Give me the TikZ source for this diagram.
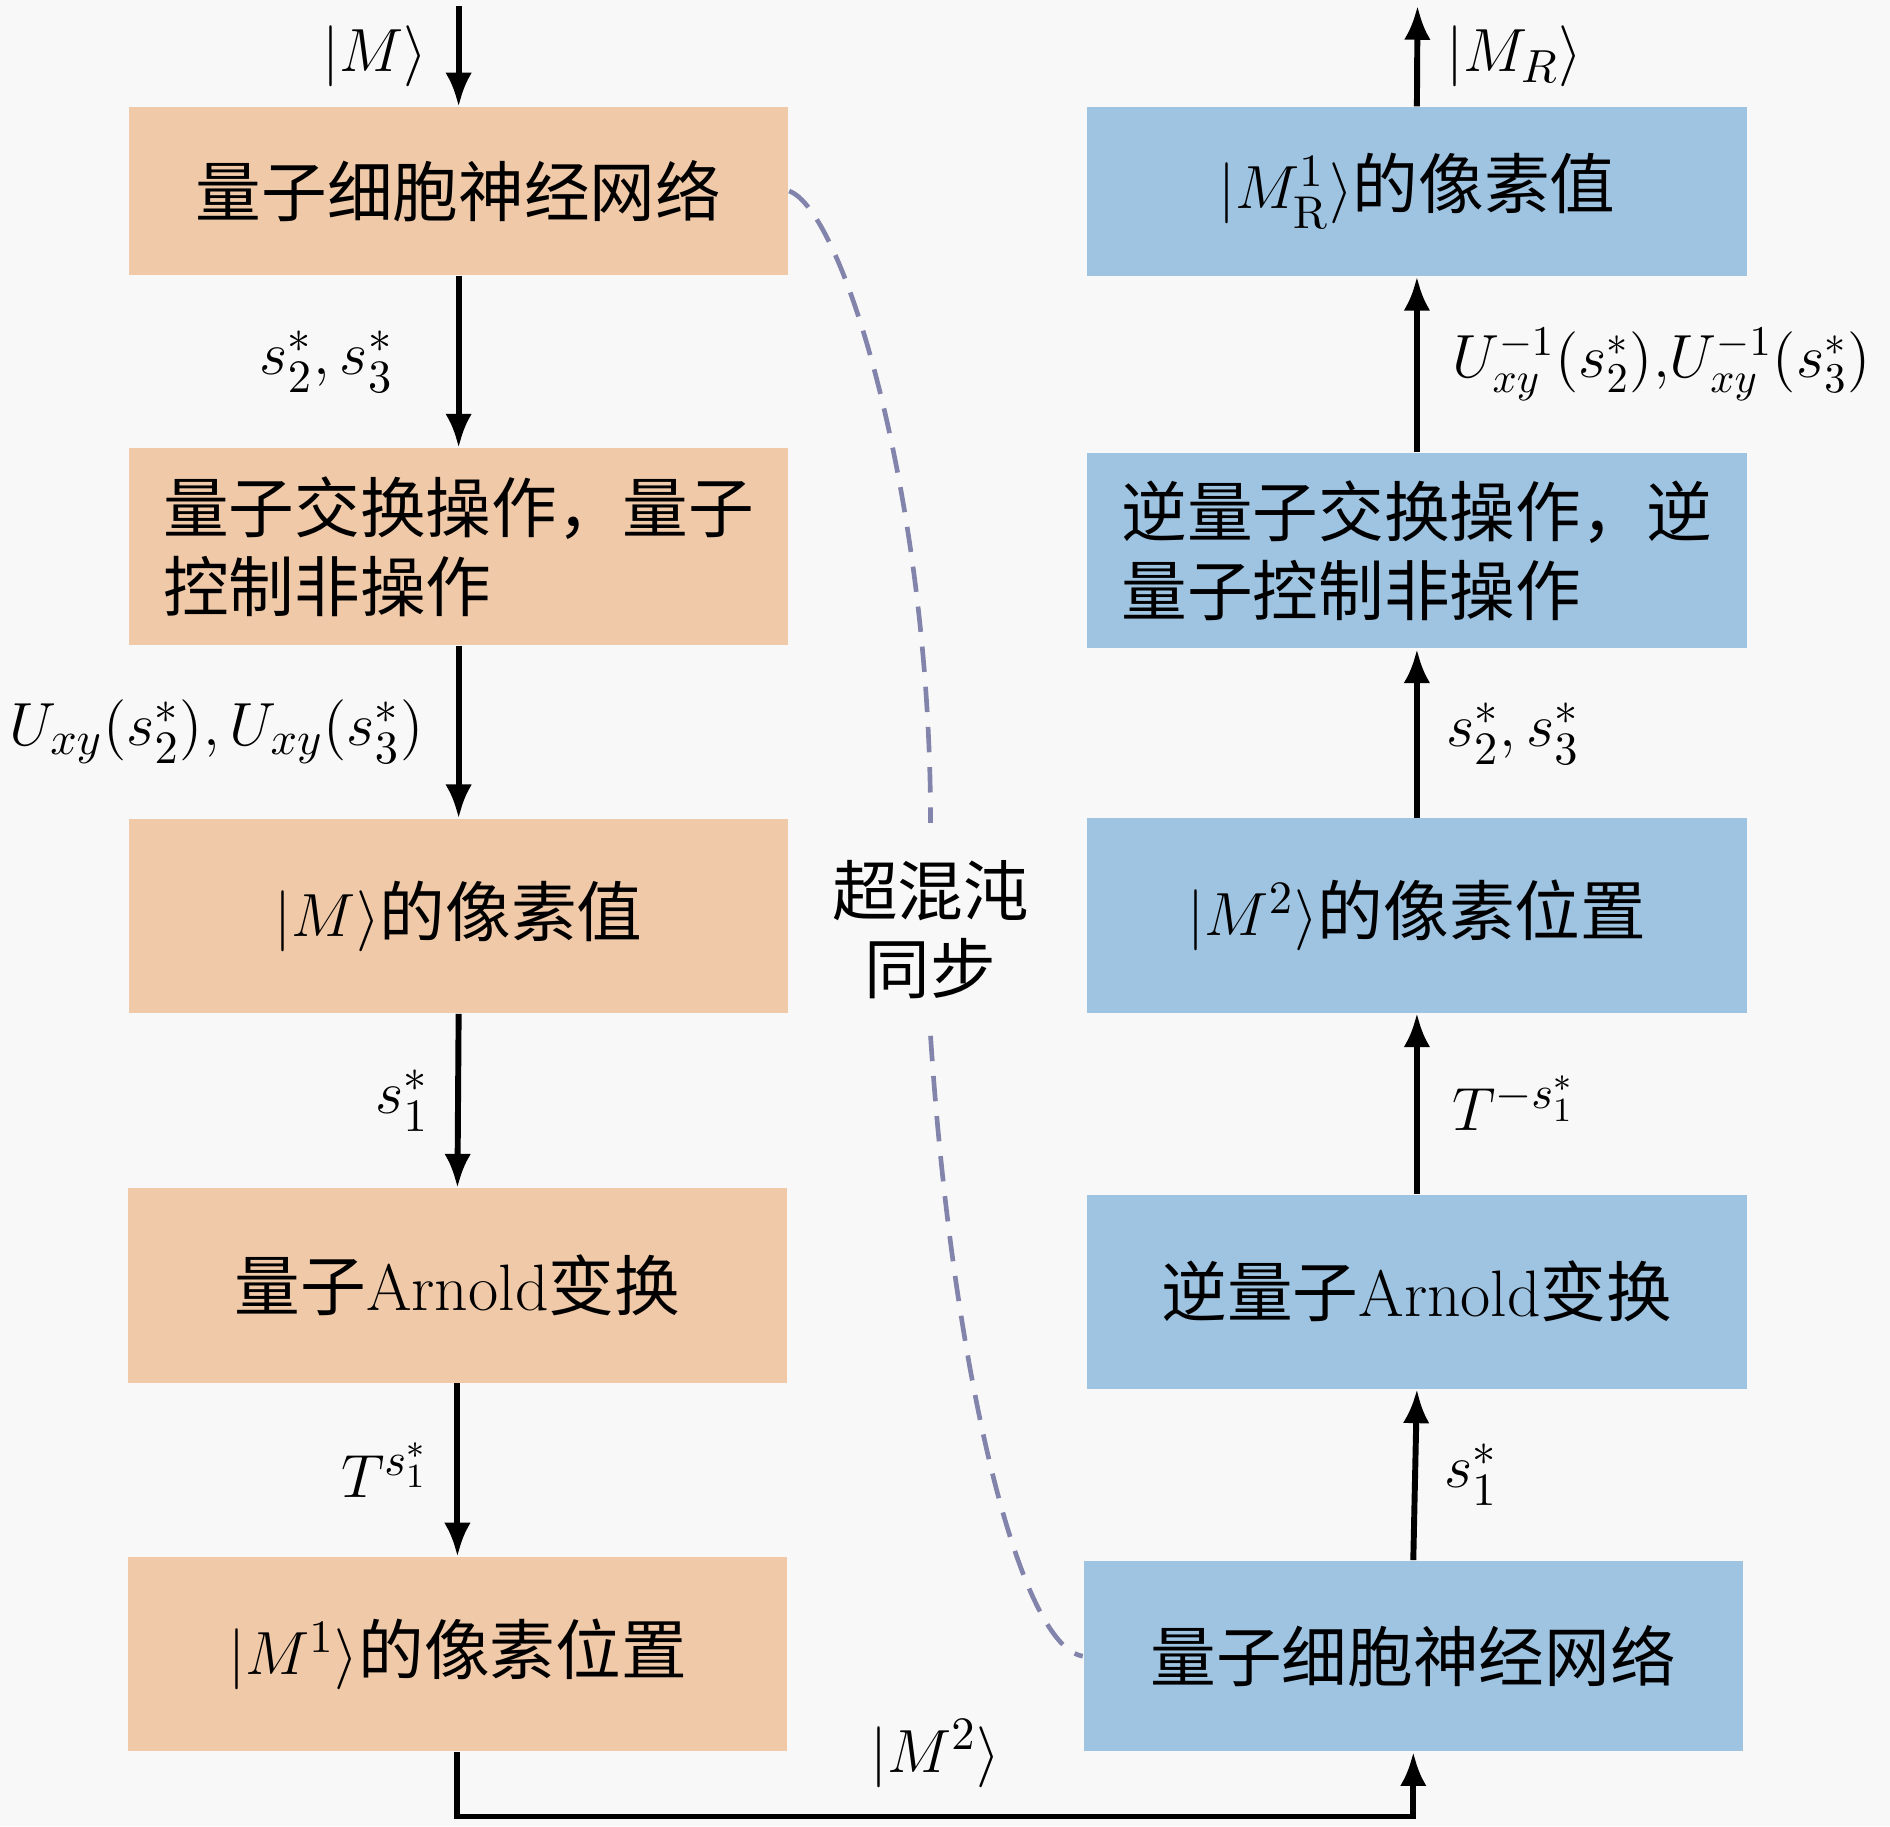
\documentclass[tikz,border=0pt]{standalone}
\usepackage{amsmath,amssymb}
\usepackage{fontspec}
\usepackage{xcolor}
\newfontfamily\cjk{Noto Sans CJK SC}
\usetikzlibrary{shapes,arrows.meta,positioning}

\definecolor{encfill}{RGB}{240,201,168}
\definecolor{decfill}{RGB}{158,196,226}
\definecolor{syncline}{RGB}{130,132,172}
\definecolor{bggray}{RGB}{248,248,248}

\begin{document}
\begin{tikzpicture}[
  font=\cjk\fontsize{15.5}{18.5}\selectfont,
  encbox/.style={rectangle, fill=encfill, minimum width=5.47cm, minimum height=1.61cm, inner sep=0pt},
  decbox/.style={encbox, fill=decfill},
  flow/.style={-{Latex[length=2.8mm,width=2.2mm]}, line width=1.4pt},
  sync/.style={dash pattern=on 6pt off 3.5pt, line width=1.1pt, syncline}
]
% Background
\useasboundingbox (0,0) rectangle (15.68,15.15);
\fill[bggray] (0,0) rectangle (15.68,15.15);

% Encryption side
\node[encbox, minimum height=1.39cm] (cnn) at (3.805,13.565) {量子细胞神经网络};
\node[encbox, minimum height=1.63cm, align=left] (swap) at (3.805,10.615) {量子交换操作，量子\\控制非操作};
\node[encbox] (val) at (3.805,7.55) {$|M\rangle$的像素值};
\node[encbox] (arn) at (3.795,4.485) {量子\textrm{Arnold}变换};
\node[encbox] (pos) at (3.795,1.425) {$|M^{1}\rangle$的像素位置};

% Decryption side
\node[decbox, minimum height=1.40cm] (rval) at (11.755,13.56) {$|M_{\mathrm{R}}^{1}\rangle$的像素值};
\node[decbox, minimum height=1.62cm, align=left] (rswap) at (11.755,10.58) {逆量子交换操作，逆\\量子控制非操作};
\node[decbox] (rpos) at (11.755,7.555) {$|M^{2}\rangle$的像素位置};
\node[decbox] (rarn) at (11.755,4.435) {逆量子\textrm{Arnold}变换};
\node[decbox, minimum height=1.58cm] (rcnn) at (11.725,1.41) {量子细胞神经网络};

% Free ends
\coordinate (in) at (3.805,15.10);
\coordinate (out) at (11.76,15.10);
\coordinate (turn) at (3.795,0.08);

% Encryption flow
\draw[flow] (in) -- node[left=0.12cm] (lin) {$|M\rangle$} (cnn.north);
\draw[flow] (cnn.south) -- node[left=0.4cm] (l1) {$s_2^*,s_3^*$} (swap.north);
\draw[flow] (swap.south) -- node[left=0.15cm] (l2) {$U_{xy}(s_2^*),U_{xy}(s_3^*)$} (val.north);
\draw[flow] (val.south) -- node[left=0.1cm] (l3) {$s_1^*$} (arn.north);
\draw[flow] (arn.south) -- node[left=0.1cm] (l4) {$T^{s_1^*}$} (pos.north);
\draw[flow] (pos.south) -- (turn) -| node[pos=0.25, above=0.1cm] (l5) {$|M^{2}\rangle$} (rcnn.south);

% Decryption flow
\draw[flow] (rcnn.north) -- node[right=0.1cm] (r1) {$s_1^*$} (rarn.south);
\draw[flow] (rarn.north) -- node[right=0.15cm] (r2) {$T^{-s_1^*}$} (rpos.south);
\draw[flow] (rpos.north) -- node[right=0.1cm] (r3) {$s_2^*,s_3^*$} (rswap.south);
\draw[flow] (rswap.north) -- node[right=0.15cm, font=\fontsize{14.5}{17}\selectfont] (r4) {$U_{xy}^{-1}(s_2^*),\!U_{xy}^{-1}(s_3^*)$} (rval.south);
\draw[flow] (rval.north) -- node[right=0.1cm] (r5) {$|M_R\rangle$} (out);

% Hyperchaotic synchronisation
\node[inner sep=0.3cm, align=center] (chaos) at (7.72,7.44) {超混沌\\同步};
\draw[sync] (cnn.east) .. controls (7.0,13.4) and (7.72,11) .. (chaos.north);
\draw[sync] (chaos.south) .. controls (7.9,3.8) and (8.45,1.5) .. (rcnn.west);
\end{tikzpicture}
\end{document}
